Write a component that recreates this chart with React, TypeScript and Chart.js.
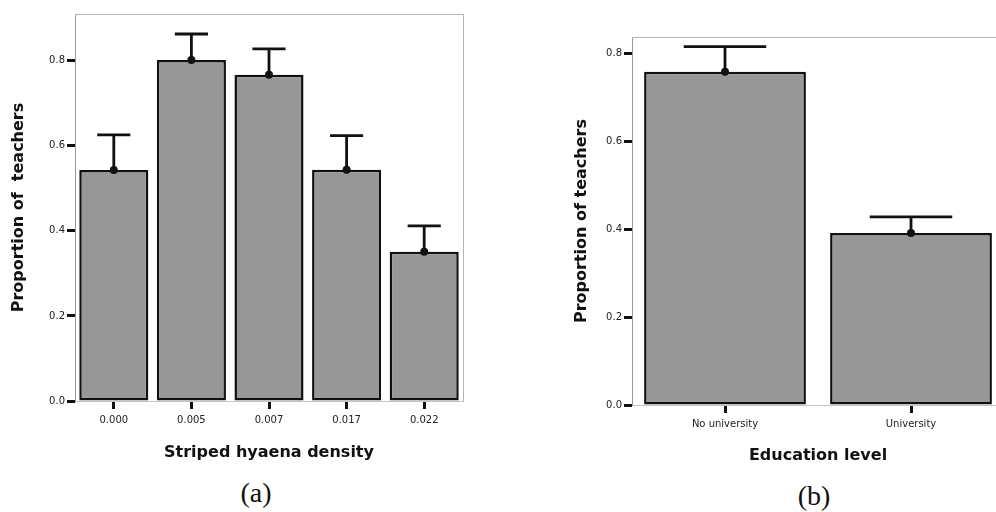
import React, { useEffect, useRef } from "react";
import { Chart, registerables } from "chart.js";

Chart.register(...registerables);

// ---- Data ----
const densityLabels = ["0.000", "0.005", "0.007", "0.017", "0.022"];
const densityMeans = [0.543, 0.802, 0.767, 0.544, 0.351];
const densityUpper = [0.626, 0.863, 0.828, 0.624, 0.412];

const educationLabels = ["No university", "University"];
const educationMeans = [0.758, 0.391];
const educationUpper = [0.815, 0.428];

const yTickValues = [0, 0.2, 0.4, 0.6, 0.8];

const FONT = "'DejaVu Sans', 'Liberation Sans', Arial, sans-serif";

const errorBarPlugin = {
  id: "errorBars",
  afterDatasetsDraw(chart: any, _args: any, opts: any) {
    const { ctx } = chart;
    const meta = chart.getDatasetMeta(0);
    const yScale = chart.scales.y;
    const upper: number[] = opts.upper || [];
    ctx.save();
    ctx.strokeStyle = "#111";
    ctx.fillStyle = "#111";
    ctx.lineWidth = opts.lineWidth;
    meta.data.forEach((bar: any, i: number) => {
      const x = bar.x;
      const y0 = bar.y;
      const y1 = yScale.getPixelForValue(upper[i]);
      const half = (bar.width * opts.capFrac) / 2;
      ctx.beginPath();
      ctx.moveTo(x, y0);
      ctx.lineTo(x, y1);
      ctx.moveTo(x - half, y1);
      ctx.lineTo(x + half, y1);
      ctx.stroke();
      ctx.beginPath();
      ctx.arc(x, y0, opts.dot, 0, Math.PI * 2);
      ctx.fill();
    });
    ctx.restore();
  },
};

const framePlugin = {
  id: "frame",
  afterDraw(chart: any) {
    const { ctx, chartArea } = chart;
    ctx.save();
    ctx.strokeStyle = "#b5b5b5";
    ctx.lineWidth = 1;
    ctx.beginPath();
    ctx.moveTo(chartArea.left, chartArea.top + 0.5);
    ctx.lineTo(chartArea.right + 0.5, chartArea.top + 0.5);
    ctx.lineTo(chartArea.right + 0.5, chartArea.bottom);
    ctx.stroke();
    ctx.restore();
  },
};

type PanelProps = {
  left: number;
  top: number;
  width: number;
  height: number;
  labels: string[];
  means: number[];
  upper: number[];
  yMax: number;
  yWidth: number;
  xHeight: number;
  padTop: number;
  padRight: number;
  yTitle: string;
  xTitle: string;
  yTitlePad: number;
  xTitlePad: number;
  barPct: number;
  capFrac: number;
};

function BarPanel(p: PanelProps) {
  const ref = useRef<HTMLCanvasElement | null>(null);
  useEffect(() => {
    if (!ref.current) return;
    const chart = new Chart(ref.current, {
      type: "bar",
      data: {
        labels: p.labels,
        datasets: [
          {
            data: p.means,
            backgroundColor: "#979797",
            borderColor: "#111",
            borderWidth: 2.5,
            borderSkipped: false,
            categoryPercentage: 1,
            barPercentage: p.barPct,
          },
        ],
      },
      options: {
        animation: false,
        responsive: false,
        devicePixelRatio: 1,
        layout: { padding: { top: p.padTop, right: p.padRight, left: 0, bottom: 0 } },
        plugins: {
          legend: { display: false },
          tooltip: { enabled: false },
          errorBars: { upper: p.upper, lineWidth: 2.8, capFrac: p.capFrac, dot: 4 },
        } as any,
        scales: {
          x: {
            type: "category",
            offset: true,
            grid: {
              display: true,
              offset: false,
              drawOnChartArea: false,
              drawTicks: true,
              tickLength: 8,
              tickWidth: 3,
              tickColor: "#111",
            },
            border: { display: true, color: "#c4c4c4", width: 1, dash: [2, 2] },
            ticks: {
              font: { family: FONT, size: 10 },
              color: "#222",
              padding: 5,
              maxRotation: 0,
              autoSkip: false,
            },
            title: {
              display: true,
              text: p.xTitle,
              font: { family: FONT, size: 16, weight: "bold" },
              color: "#111",
              padding: { top: 0, bottom: p.xTitlePad },
            },
            afterFit: (s: any) => {
              s.height = p.xHeight;
            },
          },
          y: {
            type: "linear",
            min: 0,
            max: p.yMax,
            afterBuildTicks: (s: any) => {
              s.ticks = yTickValues.map((v) => ({ value: v }));
            },
            grid: {
              display: true,
              drawOnChartArea: false,
              drawTicks: true,
              tickLength: 8,
              tickWidth: 3,
              tickColor: "#111",
            },
            border: { display: true, color: "#999", width: 1 },
            ticks: {
              font: { family: FONT, size: 10 },
              color: "#222",
              padding: 2,
              callback: (v: any) => Number(v).toFixed(1),
            },
            title: {
              display: true,
              text: p.yTitle,
              font: { family: FONT, size: 16, weight: "bold" },
              color: "#111",
              padding: { top: p.yTitlePad, bottom: 0 },
            },
            afterFit: (s: any) => {
              s.width = p.yWidth;
            },
          },
        },
      },
      plugins: [errorBarPlugin, framePlugin],
    });
    return () => chart.destroy();
  }, []);
  return (
    <canvas
      ref={ref}
      width={p.width}
      height={p.height}
      style={{ position: "absolute", left: p.left, top: p.top, width: p.width, height: p.height }}
    />
  );
}

const labelStyle: React.CSSProperties = {
  position: "absolute",
  width: 100,
  textAlign: "center",
  fontFamily: "'Liberation Serif', 'Times New Roman', serif",
  fontSize: 28,
  lineHeight: "28px",
  color: "#111",
};

export default function App() {
  return (
    <div
      style={{
        position: "absolute",
        left: 0,
        top: 0,
        width: 996,
        height: 512,
        overflow: "hidden",
        background: "#fff",
      }}
    >
      <BarPanel
        left={0}
        top={0}
        width={480}
        height={470}
        labels={densityLabels}
        means={densityMeans}
        upper={densityUpper}
        yMax={0.91}
        yWidth={75}
        xHeight={69}
        padTop={14}
        padRight={17}
        yTitle="Proportion of  teachers"
        xTitle="Striped hyaena density"
        yTitlePad={9}
        xTitlePad={8}
        barPct={0.89}
        capFrac={0.48}
      />
      <BarPanel
        left={560}
        top={0}
        width={460}
        height={475}
        labels={educationLabels}
        means={educationMeans}
        upper={educationUpper}
        yMax={0.837}
        yWidth={72}
        xHeight={70}
        padTop={37}
        padRight={16}
        yTitle="Proportion of teachers"
        xTitle="Education level"
        yTitlePad={12}
        xTitlePad={10}
        barPct={0.87}
        capFrac={0.51}
      />
      <div style={{ ...labelStyle, left: 206, top: 479 }}>(a)</div>
      <div style={{ ...labelStyle, left: 764, top: 482 }}>(b)</div>
    </div>
  );
}
